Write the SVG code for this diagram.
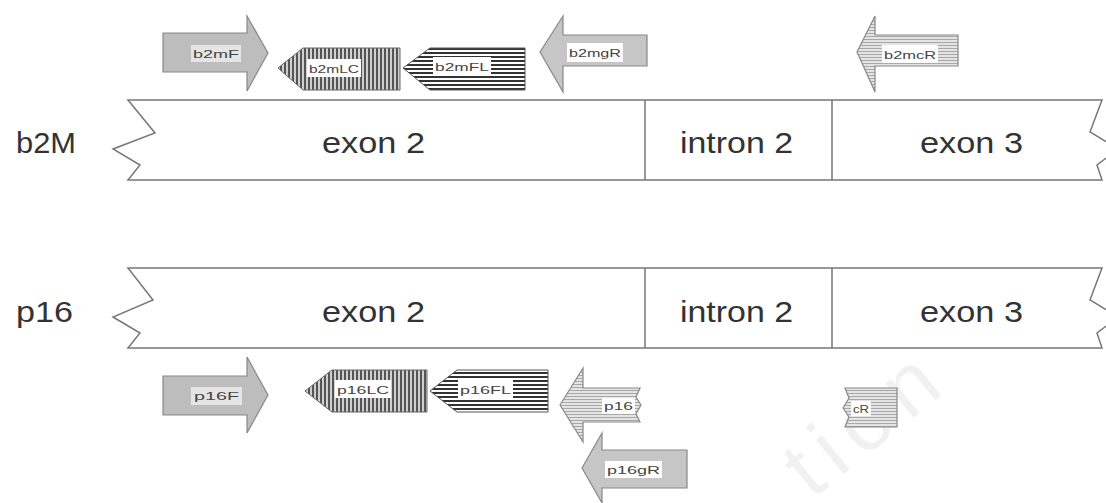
<svg xmlns="http://www.w3.org/2000/svg" width="1106" height="503" viewBox="0 0 1106 503">
<style>
.bar{fill:#fff;stroke:#777;stroke-width:1.5}
.div{stroke:#777;stroke-width:1.5}
.big{font-family:"Liberation Sans",Arial,sans-serif;font-size:29px;fill:#333}
.lbl{font-family:"Liberation Sans",Arial,sans-serif;font-size:11px;fill:#444}
.lb{fill:#fff}
.ar{stroke:#888;stroke-width:1.2}
.solid{fill:#bdbdbd}
.solid2{fill:#c6c6c6}
.vs{fill:url(#vstripe);stroke:#666}
.hs{fill:url(#hstripe);stroke:#555}
.ls{fill:url(#lstripe)}
.wm{font-family:"Liberation Sans",Arial,sans-serif;font-size:84px;fill:#f1f1f1}
</style>
<defs>
<pattern id="vstripe" width="4" height="4" patternUnits="userSpaceOnUse"><rect width="4" height="4" fill="#cfcfcf"/><rect width="2" height="4" fill="#555"/></pattern>
<pattern id="hstripe" width="4" height="4" patternUnits="userSpaceOnUse"><rect width="4" height="4" fill="#fff"/><rect width="4" height="2" fill="#333"/></pattern>
<pattern id="lstripe" width="3" height="3" patternUnits="userSpaceOnUse"><rect width="3" height="3" fill="#e4e4e4"/><rect width="3" height="1" fill="#a8a8a8"/></pattern>
</defs>
<text class="wm" x="812" y="500" letter-spacing="12" transform="rotate(-39 812 500)">tion</text>
<g id="b2M-gene">
<path class="bar" d="M128,100 L1102,100 L1090,132 L1118,149 L1097,165 L1102,180 L128,180 L140,165 L113,149 L155,133 Z"/>
<line class="div" x1="645" y1="100" x2="645" y2="180"/>
<line class="div" x1="832" y1="100" x2="832" y2="180"/>
<text class="big" x="16" y="153" textLength="60" lengthAdjust="spacingAndGlyphs">b2M</text>
<text class="big" x="322" y="153" textLength="103" lengthAdjust="spacingAndGlyphs">exon 2</text>
<text class="big" x="680" y="153" textLength="113" lengthAdjust="spacingAndGlyphs">intron 2</text>
<text class="big" x="920" y="153" textLength="103" lengthAdjust="spacingAndGlyphs">exon 3</text>
</g>
<g id="p16-gene">
<path class="bar" d="M128,268 L1102,268 L1090,300 L1118,317 L1097,333 L1102,348 L128,348 L140,333 L113,317 L153,300 Z"/>
<line class="div" x1="645" y1="268" x2="645" y2="348"/>
<line class="div" x1="832" y1="268" x2="832" y2="348"/>
<text class="big" x="16" y="322" textLength="57" lengthAdjust="spacingAndGlyphs">p16</text>
<text class="big" x="322" y="322" textLength="103" lengthAdjust="spacingAndGlyphs">exon 2</text>
<text class="big" x="680" y="322" textLength="113" lengthAdjust="spacingAndGlyphs">intron 2</text>
<text class="big" x="920" y="322" textLength="103" lengthAdjust="spacingAndGlyphs">exon 3</text>
</g>
<g id="b2mF">
<polygon class="ar solid" points="163,33 247,33 247,16 268,53 247,91 247,72 163,72"/>
<rect class="lb" x="191" y="45" width="50" height="17" fill-opacity="0.6"/>
<text class="lbl" x="193" y="58" textLength="46" lengthAdjust="spacingAndGlyphs">b2mF</text>
</g>
<g id="b2mLC">
<polygon class="vs" points="278,68 303,48 400,48 400,90 303,90"/>
<rect class="lb" x="307" y="59" width="54" height="18"/>
<text class="lbl" x="309" y="73" textLength="50" lengthAdjust="spacingAndGlyphs">b2mLC</text>
</g>
<g id="b2mFL">
<polygon class="hs" points="403,68 430,48 525,48 525,90 430,90"/>
<rect class="lb" x="433" y="57" width="58" height="18"/>
<text class="lbl" x="435" y="71" textLength="54" lengthAdjust="spacingAndGlyphs">b2mFL</text>
</g>
<g id="b2mgR">
<polygon class="ar solid2" points="540,52 563,16 563,35 647,35 647,66 563,66 563,92"/>
<rect class="lb" x="567" y="43" width="56" height="19"/>
<text class="lbl" x="569" y="57" textLength="52" lengthAdjust="spacingAndGlyphs">b2mgR</text>
</g>
<g id="b2mcR">
<polygon class="ar ls" points="857,52 875,16 875,35 958,35 958,66 875,66 875,92"/>
<rect class="lb" x="882" y="45" width="56" height="18"/>
<text class="lbl" x="884" y="59" textLength="52" lengthAdjust="spacingAndGlyphs">b2mcR</text>
</g>
<g id="p16F">
<polygon class="ar solid" points="163,376 247,376 247,357 268,395 247,433 247,415 163,415"/>
<rect class="lb" x="191" y="387" width="51" height="18" fill-opacity="0.6"/>
<text class="lbl" x="194" y="400" textLength="45" lengthAdjust="spacingAndGlyphs">p16F</text>
</g>
<g id="p16LC">
<polygon class="vs" points="305,391 332,370 427,370 427,412 332,412"/>
<rect class="lb" x="335" y="380" width="56" height="18"/>
<text class="lbl" x="337" y="394" textLength="52" lengthAdjust="spacingAndGlyphs">p16LC</text>
</g>
<g id="p16FL">
<polygon class="hs" points="430,391 457,370 548,370 548,412 457,412"/>
<rect class="lb" x="458" y="380" width="55" height="18"/>
<text class="lbl" x="460" y="394" textLength="51" lengthAdjust="spacingAndGlyphs">p16FL</text>
</g>
<g id="p16">
<polygon class="ar ls" points="560,405 583,368 583,388 640,388 636,397 641,405 636,414 640,422 583,422 583,442"/>
<rect class="lb" x="602" y="398" width="33" height="16"/>
<text class="lbl" x="604" y="410" textLength="29" lengthAdjust="spacingAndGlyphs">p16</text>
</g>
<g id="p16gR">
<polygon class="ar solid2" points="582,468 602,433 602,450 687,450 687,488 602,488 602,503"/>
<rect class="lb" x="605" y="461" width="57" height="17"/>
<text class="lbl" x="607" y="474" textLength="53" lengthAdjust="spacingAndGlyphs">p16gR</text>
</g>
<g id="cR">
<polygon class="ar ls" points="845,388 897,388 897,427 845,427 849,417 843,408 849,398"/>
<rect class="lb" x="851" y="401" width="20" height="15"/>
<text class="lbl" x="853" y="413" textLength="16" lengthAdjust="spacingAndGlyphs">cR</text>
</g>
<g id="connectors"/>
</svg>
